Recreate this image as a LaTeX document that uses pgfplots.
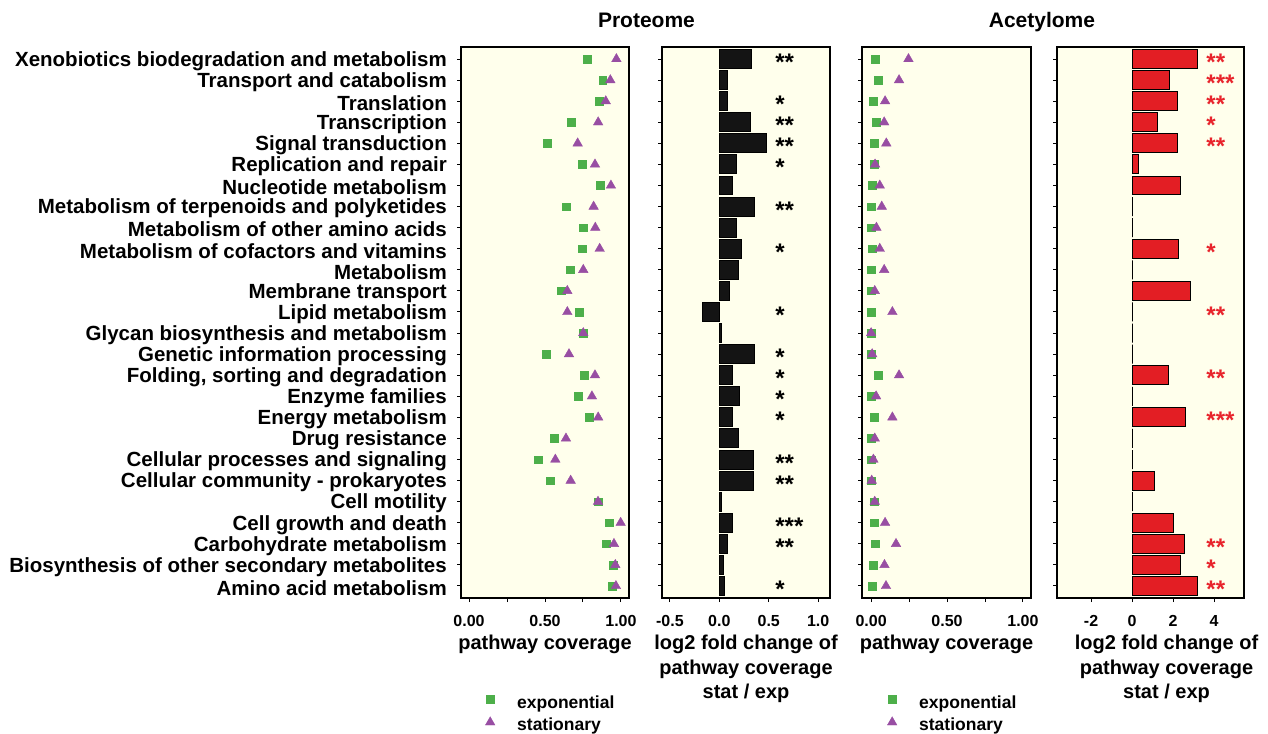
\documentclass[border=0pt]{standalone}
\usepackage{fontspec}
\setmainfont{Liberation Sans}
\usepackage{pgfplots}
\usepackage{pgfplotstable}
\pgfplotsset{compat=1.18}
\definecolor{bg}{RGB}{255,255,236}
\definecolor{grn}{RGB}{77,175,74}
\definecolor{pur}{RGB}{152,78,163}
\definecolor{barred}{RGB}{227,30,36}
\definecolor{barblk}{RGB}{20,20,20}
\definecolor{starred}{RGB}{232,36,44}
\newcommand\fs[2]{\fontsize{#1}{#2}\selectfont\bfseries}

% y: 26 = Xenobiotics (top) ... 1 = Amino acid metabolism (bottom)
\pgfplotstableread{
y  pexp  pstat pfc    aexp  astat afc
26 0.776 0.970 0.33   0.026 0.246 3.20
25 0.880 0.930 0.08   0.046 0.184 1.85
24 0.855 0.900 0.08   0.013 0.092 2.21
23 0.673 0.850 0.32   0.033 0.086 1.22
22 0.513 0.715 0.48   0.020 0.100 2.21
21 0.743 0.829 0.17   0.020 0.026 0.29
20 0.862 0.934 0.13   0.007 0.057 2.36
19 0.638 0.820 0.36   0.000 0.070 0.00
18 0.750 0.831 0.17   0.000 0.035 0.00
17 0.743 0.860 0.22   0.007 0.057 2.28
16 0.664 0.752 0.19   0.000 0.086 0.00
15 0.605 0.647 0.10   0.000 0.024 2.85
14 0.724 0.647 -0.175 0.000 0.140 0.00
13 0.750 0.752 0.02   0.000 0.000 0.00
12 0.507 0.658 0.36   0.000 0.007 0.00
11 0.757 0.829 0.13   0.046 0.184 1.79
10 0.717 0.809 0.20   0.000 0.033 0.00
9  0.789 0.850 0.13   0.020 0.140 2.63
8  0.559 0.638 0.19   0.000 0.024 0.00
7  0.454 0.568 0.35   0.000 0.015 0.00
6  0.533 0.669 0.35   0.000 0.004 1.09
5  0.849 0.849 0.02   0.020 0.024 0.00
4  0.921 0.998 0.13   0.020 0.092 2.00
3  0.901 0.954 0.08   0.026 0.164 2.57
2  0.947 0.963 0.04   0.013 0.088 2.36
1  0.941 0.967 0.05   0.007 0.098 3.20
}\data

\tikzset{star/.style={anchor=base west, inner sep=0pt, font=\fs{24}{24},
  text height=8pt, text depth=0pt, yshift=-11.5pt}}

\pgfplotsset{
  panel/.style={
    scale only axis, height=551pt,
    ymin=0.43, ymax=26.57, ytick={1,...,26},
    axis background/.style={fill=bg},
    axis line style={line width=1.2pt},
    tick align=outside, tick pos=left, major tick length=4pt,
    major tick style={black, line width=1pt},
    tick label style={font=\fs{16}{16}, inner sep=0pt},
    xticklabel style={yshift=-13pt},
    xlabel style={font=\fs{20}{24.5}, align=center, inner sep=0pt,
      at={(axis description cs:0.5,0)}, anchor=north, yshift=-37pt},
    clip=false,
  },
  cov/.style={panel, xmin=-0.053, xmax=1.053,
    xtick={0,0.25,0.5,0.75,1}, xticklabels={0.00,,0.50,,1.00},
    xlabel={pathway coverage},
    legend style={draw=none, fill=none, inner sep=0pt, font=\fs{17.5}{17.5},
      row sep=6pt, nodes={inner sep=0pt, text height=12pt, text depth=4pt},
      anchor=north west},
    legend cell align=left},
  expm/.style={only marks, mark=square*, mark size=3.8pt, color=grn,
    legend image code/.code={%
      \pgfpathrectangle{\pgfpoint{-8pt}{-5pt}}{\pgfpoint{35pt}{10pt}}%
      \pgfusepath{use as bounding box}%
      \draw[##1] plot coordinates {(0pt,5pt)};}},
  statm/.style={only marks, mark=triangle*, mark size=5.5pt, color=pur,
    legend image code/.code={%
      \pgfpathrectangle{\pgfpoint{-8pt}{-5pt}}{\pgfpoint{35pt}{10pt}}%
      \pgfusepath{use as bounding box}%
      \draw[##1] plot coordinates {(0pt,4pt)};}},
}

\begin{document}
\begin{tikzpicture}
\useasboundingbox (0pt,0pt) rectangle (1268pt,-733pt);

% ---- Panel 1: proteome coverage
\begin{axis}[cov, at={(461pt,-598pt)}, anchor=south west, width=168pt,
  yticklabels={Amino acid metabolism, Biosynthesis of other secondary metabolites,
    Carbohydrate metabolism, Cell growth and death, Cell motility,
    Cellular community - prokaryotes, Cellular processes and signaling,
    Drug resistance, Energy metabolism, Enzyme families,
    {Folding, sorting and degradation}, Genetic information processing,
    Glycan biosynthesis and metabolism, Lipid metabolism, Membrane transport,
    Metabolism, Metabolism of cofactors and vitamins,
    Metabolism of other amino acids, Metabolism of terpenoids and polyketides,
    Nucleotide metabolism, Replication and repair, Signal transduction,
    Transcription, Translation, Transport and catabolism,
    Xenobiotics biodegradation and metabolism},
  yticklabel style={font=\fs{20.5}{20.5}, xshift=-10pt, yshift=-2pt},
  title={Proteome},
  title style={at={(axis description cs:1.104,1)}, anchor=base, yshift=14pt,
    font=\fs{21}{21}, inner sep=0pt},
  legend style={at={(axis description cs:0.125,-0.178)}}]
\addplot[expm] table[x=pexp, y=y] {\data};
\addplot[statm] table[x=pstat, y=y] {\data};
\legend{exponential, stationary}
\end{axis}

% ---- Panel 2: proteome fold change
\begin{axis}[panel, at={(662pt,-598pt)}, anchor=south west, width=168pt,
  xmin=-0.58, xmax=1.12, xtick={-0.5,0,0.5,1},
  xticklabels={-0.5,0.0,0.5,1.0}, yticklabels={},
  xlabel={log2 fold change of\\pathway coverage\\stat / exp}]
\addplot[xbar, bar width=0.9, fill=barblk, draw=black, line width=1pt]
  table[x=pfc, y=y] {\data};
\node[star] at (axis cs:0.565,26) {**};
\node[star] at (axis cs:0.565,24) {*};
\node[star] at (axis cs:0.565,23) {**};
\node[star] at (axis cs:0.565,22) {**};
\node[star] at (axis cs:0.565,21) {*};
\node[star] at (axis cs:0.565,19) {**};
\node[star] at (axis cs:0.565,17) {*};
\node[star] at (axis cs:0.565,14) {*};
\node[star] at (axis cs:0.565,12) {*};
\node[star] at (axis cs:0.565,11) {*};
\node[star] at (axis cs:0.565,10) {*};
\node[star] at (axis cs:0.565,9) {*};
\node[star] at (axis cs:0.565,7) {**};
\node[star] at (axis cs:0.565,6) {**};
\node[star] at (axis cs:0.565,4) {***};
\node[star] at (axis cs:0.565,3) {**};
\node[star] at (axis cs:0.565,1) {*};
\end{axis}

% ---- Panel 3: acetylome coverage
\begin{axis}[cov, at={(862pt,-598pt)}, anchor=south west, width=169pt,
  xmin=-0.06, xmax=1.053, yticklabels={},
  title={Acetylome},
  title style={at={(axis description cs:1.065,1)}, anchor=base, yshift=14pt,
    font=\fs{21}{21}, inner sep=0pt},
  legend style={at={(axis description cs:0.130,-0.178)}}]
\addplot[expm] table[x=aexp, y=y] {\data};
\addplot[statm] table[x=astat, y=y] {\data};
\legend{exponential, stationary}
\end{axis}

% ---- Panel 4: acetylome fold change
\begin{axis}[panel, at={(1057pt,-598pt)}, anchor=south west, width=187pt,
  xmin=-3.66, xmax=5.46, xtick={-2,0,2,4},
  xticklabels={-2,0,2,4}, yticklabels={},
  xlabel style={xshift=16pt},
  xlabel={log2 fold change of\\pathway coverage\\stat / exp}]
\addplot[xbar, bar width=0.9, fill=barred, draw=black, line width=1pt]
  table[x=afc, y=y] {\data};
\node[star, text=starred] at (axis cs:3.62,26) {**};
\node[star, text=starred] at (axis cs:3.62,25) {***};
\node[star, text=starred] at (axis cs:3.62,24) {**};
\node[star, text=starred] at (axis cs:3.62,23) {*};
\node[star, text=starred] at (axis cs:3.62,22) {**};
\node[star, text=starred] at (axis cs:3.62,17) {*};
\node[star, text=starred] at (axis cs:3.62,14) {**};
\node[star, text=starred] at (axis cs:3.62,11) {**};
\node[star, text=starred] at (axis cs:3.62,9) {***};
\node[star, text=starred] at (axis cs:3.62,3) {**};
\node[star, text=starred] at (axis cs:3.62,2) {*};
\node[star, text=starred] at (axis cs:3.62,1) {**};
\end{axis}
\end{tikzpicture}
\end{document}
